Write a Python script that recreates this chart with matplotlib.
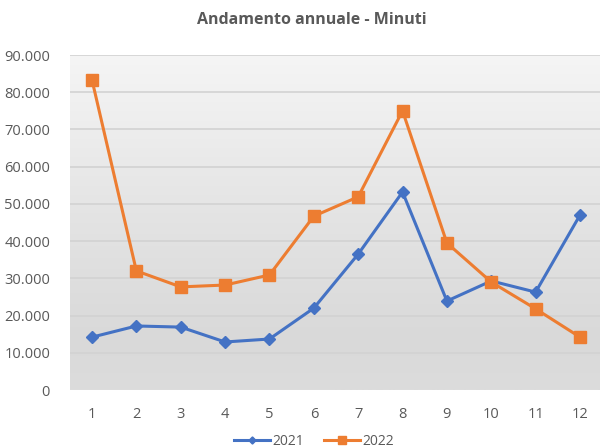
import matplotlib
matplotlib.use("Agg")
import matplotlib.pyplot as plt
import numpy as np
from matplotlib.colors import LinearSegmentedColormap

months = [1, 2, 3, 4, 5, 6, 7, 8, 9, 10, 11, 12]
y2021 = [14200, 17200, 16900, 12900, 13700, 22000, 36500, 53200, 23900, 29300, 26300, 47000]
y2022 = [83300, 32000, 27700, 28200, 30900, 46700, 51900, 75000, 39500, 29000, 21800, 14200]
yticks = [0, 10000, 20000, 30000, 40000, 50000, 60000, 70000, 80000, 90000]
ytick_labels = ["0", "10.000", "20.000", "30.000", "40.000", "50.000", "60.000", "70.000", "80.000", "90.000"]

plt.rcParams['font.family'] = ['Open Sans', 'DejaVu Sans']
fig = plt.figure(figsize=(6.0, 4.48), dpi=100)
W, H = 600, 448
left, right, top, bottom = 69.5, 600, 55, 390
ax = fig.add_axes([left / W, 1 - bottom / H, (right - left) / W, (bottom - top) / H])

# x scale: x=1 at 92px, x=12 at 580px
sp = (580 - 92) / 11
xlo = 1 - (92 - left) / sp
xhi = 12 + (right - 580) / sp
ax.set_xlim(xlo, xhi)
ax.set_ylim(0, 90000)

# gradient background
cmap = LinearSegmentedColormap.from_list("g", [(0, "#dcdcdc"), (0.15, "#d9d9d9"), (0.5, "#e3e3e3"), (1.0, "#f5f5f5")])
grad = np.linspace(0, 1, 256).reshape(-1, 1)
ax.imshow(grad, extent=[xlo, xhi, 0, 90000], origin="lower", aspect="auto", cmap=cmap, zorder=0)

for yv in yticks[1:]:
    ax.axhline(yv, color="#d2d2d2", lw=1.2, zorder=1)

ax.plot(months, y2021, color="#4472C4", lw=2.2, marker="D", ms=6, label="2021", zorder=3)
ax.plot(months, y2022, color="#ED7D31", lw=2.2, marker="s", ms=8.5, label="2022", zorder=3)

ax.set_yticks(yticks)
ax.set_yticklabels(ytick_labels)
ax.set_xticks(months)
ax.set_xticklabels([str(m) for m in months])
ax.tick_params(axis="both", length=0, colors="#595959", labelsize=10.5)
ax.tick_params(axis="x", pad=12)
ax.tick_params(axis="y", pad=14)
for s in ax.spines.values():
    s.set_visible(False)

fig.text(312 / W, 1 - 20 / H, "Andamento annuale - Minuti", ha="center", va="center",
         fontsize=11.5, fontweight="bold", color="#595959")

leg = fig.legend(loc="center", bbox_to_anchor=(314 / W, 1 - 441 / H), ncol=2, frameon=False,
                 fontsize=10, labelcolor="#595959", handlelength=2.6, columnspacing=1.4,
                 handletextpad=0.2, markerscale=0.6)

fig.savefig("out.png", dpi=100)
